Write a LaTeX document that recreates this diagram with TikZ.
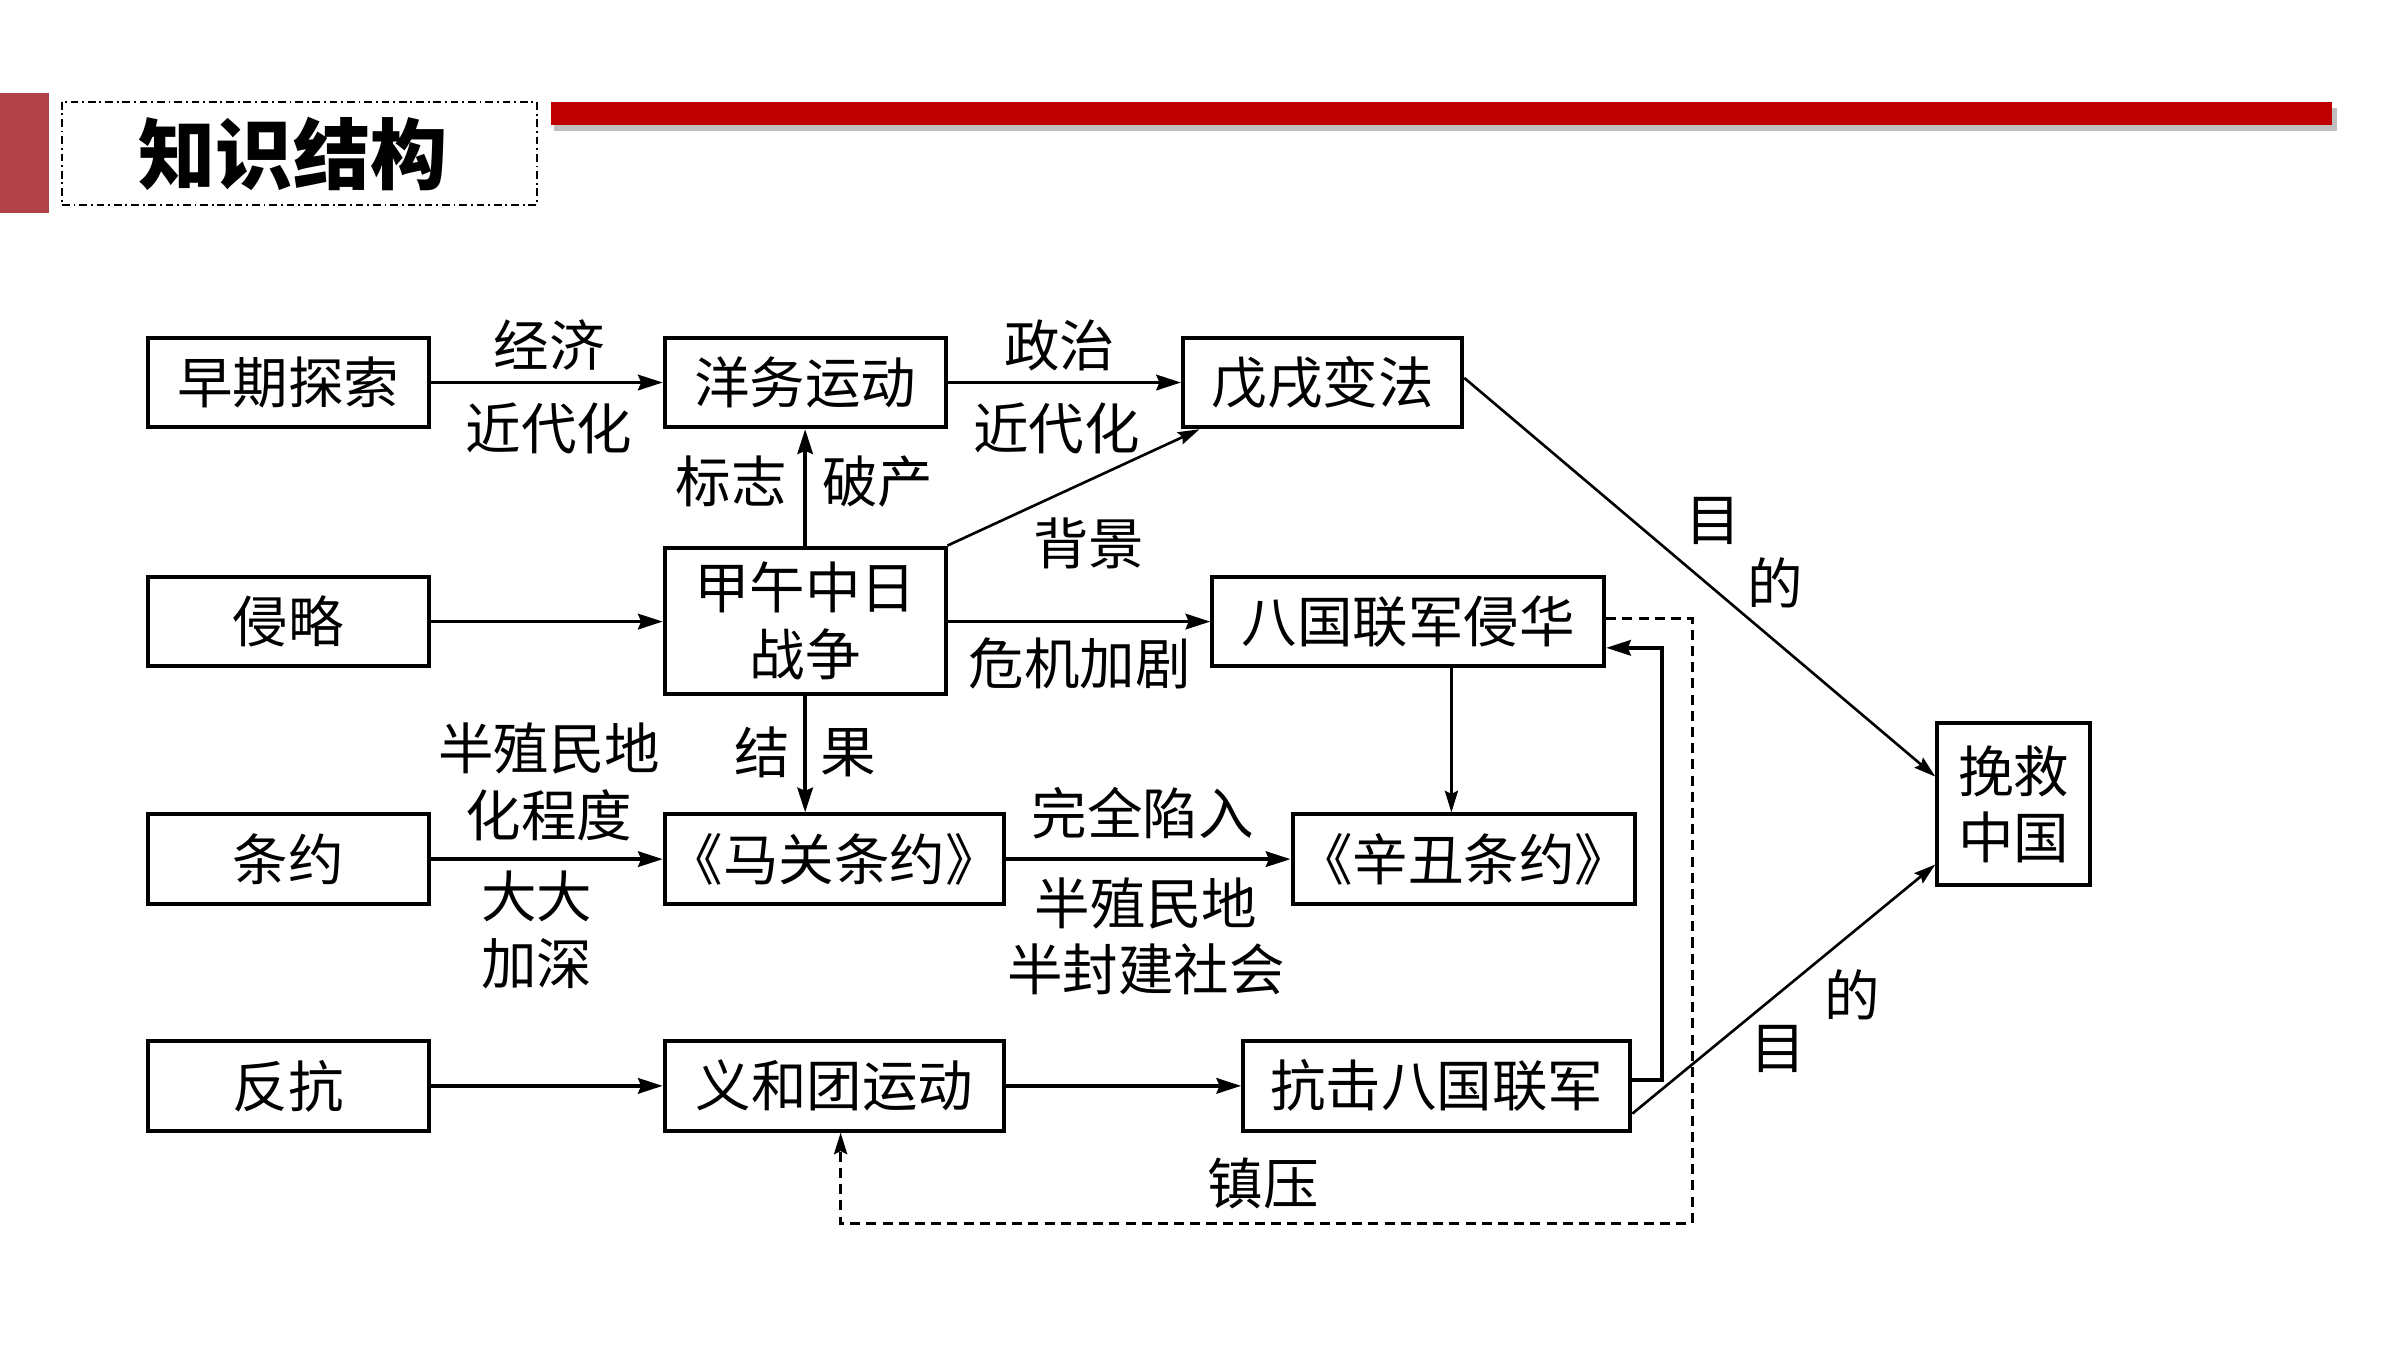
\documentclass[tikz,border=0pt]{standalone}
\usepackage{fontspec}
\setmainfont{Noto Sans CJK SC}
\usetikzlibrary{arrows.meta,calc}
\definecolor{barred}{RGB}{192,0,0}
\definecolor{sidered}{RGB}{176,66,72}
\begin{document}
\begin{tikzpicture}[x=1pt,y=-1pt,
  box/.style={draw, line width=2.6pt, inner sep=0pt, align=center, font=\fontsize{36}{43}\selectfont},
  lab/.style={inner sep=0pt, align=center, font=\fontsize{36}{43}\selectfont},
  arr/.style={line width=2.4pt, -{Stealth[length=16pt,width=10pt,inset=2pt]}},
  thinarr/.style={line width=1.7pt, -{Stealth[length=14pt,width=8.5pt,inset=2pt]}},
  dasharr/.style={line width=1.9pt, dash pattern=on 6.5pt off 4pt, -{Stealth[length=14pt,width=8.5pt,inset=2pt]}}]
\useasboundingbox (0,0) rectangle (1556,875);
% header
\fill[sidered] (0,60) rectangle (32,138);
\draw[line width=1.2pt, dash pattern=on 5pt off 2.5pt on 1.2pt off 2.5pt] (40,66) rectangle (348,133);
\node[inner sep=0pt, font=\fontsize{50}{60}\bfseries\selectfont] (title) at (190,100) {知识结构};
\fill[black!25] (359,70) rectangle (1515,85);
\fill[barred] (357,66) rectangle (1512,81);
% boxes
\node[box, minimum width=182pt, minimum height=58pt] (zq) at (187,248) {早期探索};
\node[box, minimum width=182pt, minimum height=58pt] (yw) at (522,248) {洋务运动};
\node[box, minimum width=181pt, minimum height=58pt] (wx) at (857.5,248) {戊戌变法};
\node[box, minimum width=182pt, minimum height=58pt] (ql) at (187,403) {侵略};
\node[box, minimum width=182pt, minimum height=95pt] (jw) at (522,402.5) {甲午中日\\战争};
\node[box, minimum width=254pt, minimum height=58pt] (bg) at (913,403) {八国联军侵华};
\node[box, minimum width=182pt, minimum height=58pt] (ty) at (187,557) {条约};
\node[box, minimum width=220pt, minimum height=58pt] (mg) at (541,557) {《马关条约》};
\node[box, minimum width=222pt, minimum height=58pt] (xc) at (949,557) {《辛丑条约》};
\node[box, minimum width=182pt, minimum height=58pt] (fk) at (187,704) {反抗};
\node[box, minimum width=220pt, minimum height=58pt] (yh) at (541,704) {义和团运动};
\node[box, minimum width=251pt, minimum height=58pt] (kj) at (931.5,704) {抗击八国联军};
\node[box, minimum width=99pt, minimum height=105pt] (wj) at (1305.5,521.5) {挽救\\中国};
% connectors
\draw[arr] (zq.east) -- (yw.west);
\node[lab] (l1) at (356,224) {经济};
\node[lab] (l2) at (356,278) {近代化};
\draw[arr] (yw.east) -- (wx.west);
\node[lab] (l3) at (687,224) {政治};
\node[lab] (l4) at (685,278) {近代化};
\draw[arr] (jw.north) -- (yw.south);
\node[lab] (l5) at (474,312) {标志};
\node[lab] (l6) at (569,312) {破产};
\draw[thinarr] (jw.north east) -- ([xshift=12pt]wx.south west);
\node[lab] (l7) at (706,352) {背景};
\draw[arr] (ql.east) -- (ql.east -| jw.west);
\draw[arr] (jw.east |- bg.west) -- (bg.west);
\node[lab] (l8) at (700,430) {危机加剧};
\draw[arr] (jw.south) -- (jw.south |- mg.north);
\node[lab] (l9) at (494,488) {结};
\node[lab] (l10) at (550,488) {果};
\draw[arr] (ty.east) -- (mg.west);
\node[lab] (l11) at (356,507) {半殖民地\\化程度};
\node[lab] (l12) at (348,603) {大大\\加深};
\draw[arr] (mg.east) -- (xc.west);
\node[lab] (l13) at (741,527) {完全陷入};
\node[lab] (l14) at (743,607) {半殖民地\\半封建社会};
\draw[thinarr] ([xshift=28pt]bg.south) -- ([xshift=28pt]bg.south |- xc.north);
\draw[arr] (fk.east) -- (yh.west);
\draw[arr] (yh.east) -- (kj.west);
\draw[arr] ([yshift=4pt]kj.east) -- ++(19,0) |- ([yshift=-17pt]bg.east);
\coordinate (d1) at (1097,793);
\draw[dasharr] ([yshift=2pt]bg.east) -| (d1) -| ([xshift=4pt]yh.south);
\node[lab] (l15) at (819,767) {镇压};
\draw[thinarr] ([yshift=3pt]wx.east) -- ([yshift=18pt]wj.west);
\node[lab] (l16) at (1111,338) {目};
\node[lab] (l17) at (1151,378) {的};
\draw[thinarr] ([yshift=-18pt]kj.east) -- ([yshift=-39pt]wj.west);
\node[lab] (l18) at (1201,645) {的};
\node[lab] (l19) at (1153,680) {目};
\end{tikzpicture}
\end{document}
